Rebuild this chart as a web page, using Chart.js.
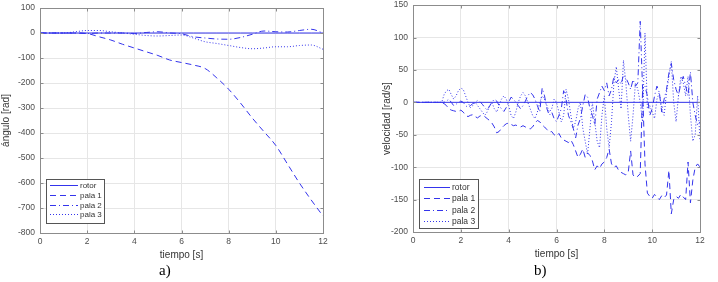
<!DOCTYPE html>
<html>
<head>
<meta charset="utf-8">
<script src="https://cdn.jsdelivr.net/npm/chart.js@4/dist/chart.umd.min.js"></script>
<style>
  body { margin: 0; background: #fff; width: 718px; height: 282px; position: relative; overflow: hidden; }
  canvas { position: absolute; top: 0; }
  #chartA { left: 0; }
  #chartB { left: 358px; }
  .cap { position: absolute; top: 263px; font-family: "Liberation Serif", "Times New Roman", serif; font-size: 15px; line-height: 15px; color: #000; }
</style>
</head>
<body>
<canvas id="chartA" width="360" height="282"></canvas>
<canvas id="chartB" width="360" height="282"></canvas>
<div class="cap" style="left:159px">a)</div>
<div class="cap" style="left:534px">b)</div>
<script>
// a) angulo [rad]
var tiempoA = [0, 0.5, 1, 1.5, 2, 2.5, 3, 3.5, 4, 4.5, 5, 5.5, 6, 6.5, 7, 7.5, 8, 8.5, 9, 9.5, 10, 10.5, 11, 11.5, 12];
var rotorA = [0, 0, 0, 0, 0, 0, 0, 0, 0, 0, 0, 0, 0, 0, 0, 0, 0, 0, 0, 0, 0, 0, 0, 0, 0];
var pala1A = [0, 0, 0, 0, -2, -15, -28, -45, -60, -75, -90, -108, -118, -128, -142, -180, -225, -280, -340, -395, -450, -525, -600, -668, -732];
var pala2A = [0, 0, 0, 0, -2, 0, 0, 0, -2, 2, 5, 0, -3, -15, -20, -24, -25, -18, -5, 8, 5, 4, 10, 15, 0];
var pala3A = [0, 0, 0, 5, 10, 10, 5, 0, -5, -10, -12, -10, -8, -20, -35, -42, -50, -58, -63, -60, -55, -55, -50, -48, -65];

// b) velocidad [rad/s]
var tiempoB = [
  0, 0.1, 0.2, 0.3, 0.4, 0.5, 0.6, 0.7, 0.8, 0.9,
  1, 1.1, 1.2, 1.3, 1.4, 1.5, 1.6, 1.7, 1.8, 1.9,
  2, 2.1, 2.2, 2.3, 2.4, 2.5, 2.6, 2.7, 2.8, 2.9,
  3, 3.1, 3.2, 3.3, 3.4, 3.5, 3.6, 3.7, 3.8, 3.9,
  4, 4.1, 4.2, 4.3, 4.4, 4.5, 4.6, 4.7, 4.8, 4.9,
  5, 5.1, 5.2, 5.3, 5.4, 5.5, 5.6, 5.7, 5.8, 5.9,
  6, 6.1, 6.2, 6.3, 6.4, 6.5, 6.6, 6.7, 6.8, 6.9,
  7, 7.1, 7.2, 7.3, 7.4, 7.5, 7.6, 7.7, 7.8, 7.9,
  8, 8.1, 8.2, 8.3, 8.4, 8.5, 8.6, 8.7, 8.8, 8.9,
  9, 9.1, 9.2, 9.3, 9.4, 9.5, 9.6, 9.7, 9.8, 9.9,
  10, 10.1, 10.2, 10.3, 10.4, 10.5, 10.6, 10.7, 10.8, 10.9,
  11, 11.1, 11.2, 11.3, 11.4, 11.5, 11.6, 11.7, 11.8, 11.9,
  12];
var tiempoRotorB = [0, 12];
var rotorB = [0, 0];
var pala1B = [
  0, 0, 0, 0, 0, 0, 0, 0, 0, 0,
  0, 0, 0, -2, -5, -10, -12, -13, -14, -14,
  -12, -15, -20, -22, -20, -19, -22, -24, -21, -20,
  -22, -25, -28, -32, -38, -47, -45, -40, -36, -33,
  -32, -34, -36, -35, -37, -38, -36, -38, -40, -41,
  -38, -32, -28, -30, -35, -38, -42, -46, -45, -50,
  -52, -48, -55, -58, -60, -62, -58, -65, -75, -85,
  -80, -72, -85, -78, -82, -90, -104, -98, -102, -95,
  -92, -85, -72, -95, -100, -98, -105, -108, -110, -112,
  -108, -75, -112, -116, -114, -110, 20, -95, -140, -145,
  -148, -142, -146, -150, -144, -147, -143, -105, -172, -150,
  -145, -148, -142, -146, -150, -92, -155, -120, -100, -95,
  -100];
var pala2B = [
  0, 0, 0, 0, 0, 0, 0, 0, 0, 0,
  0, 0, 0, 0, 2, 5, 0, -5, -3, 0,
  2, 0, -5, -8, -5, -2, 0, 3, 1, -3,
  -8, -12, -6, 0, 5, 2, -5, -10, -14, -8,
  0, 8, 5, 0, -5, -10, -5, 2, 10, 15,
  12, 5, -5, -15, 22, 10, -10, -20, -15, -25,
  -30, -20, -10, 18, 5, -20, -30, -40, -55, -35,
  -25, -5, 12, 8, -10, -20, -35, 5, 15, 25,
  18, 30, 10, 20, 40, 30, 35, 28, 42, 38,
  30, 20, 35, 25, 30, 125, 20, 25, 10, -20,
  -10, 10, 25, 15, -15, 5, 20, 45, 60, 35,
  20, 10, 30, 40, 25, 10, 47, 0, -20, -35,
  -30];
var pala3B = [
  0, 0, 0, 0, 0, 0, 0, 0, 0, 0,
  0, 0, 0, 12, 18, 20, 12, 5, 10, 18,
  22, 20, 10, 0, -8, -5, 0, -5, -10, -15,
  -20, -15, -5, 0, -10, -15, -5, 5, 10, 5,
  -5, -20, -25, -15, 0, 10, 15, 10, 0, -10,
  -20, -25, -15, 0, 10, 5, -5, -15, -10, 5,
  0, -15, -30, -20, 20, 5, -20, -40, -30, -10,
  0, -40, -60, -80, -40, 0, -30, -60, -70, -20,
  10, -40, -70, -30, 30, 55, 20, -10, 65, 30,
  -20, -60, -20, 30, 20, 0, -30, 107, -10, -5,
  -15, -25, 5, 15, -10, -20, 15, 40, 63, 0,
  -30, 10, 40, 30, 10, 40, -20, -60, -50, 10,
  -60];

var azul = '#3434ec';
var gris = '#8c8c8c';
var tickFont = { family: 'Liberation Sans, Arial, sans-serif', size: 8.5 };
var titleFont = { family: 'Liberation Sans, Arial, sans-serif', size: 10 };

function puntos(xs, ys) {
  return ys.map(function(y, i) { return { x: xs[i], y: y }; });
}

function serie(label, xs, ys, dash) {
  return { label: label, data: puntos(xs, ys), borderColor: azul, borderWidth: 1, borderDash: dash, pointRadius: 0, fill: false };
}

// matlab like box, inner ticks and legend in the lower left corner
var mlBox = {
  id: 'mlBox',
  afterDatasetsDraw: function(chart, args, opts) {
    var ctx = chart.ctx, a = chart.chartArea, sx = chart.scales.x, sy = chart.scales.y;
    ctx.save();
    ctx.setLineDash([]);
    ctx.lineWidth = 1;
    ctx.strokeStyle = gris;
    var l = Math.round(a.left) + 0.5, t = Math.round(a.top) + 0.5, r = Math.round(a.right) + 0.5, b = Math.round(a.bottom) + 0.5;
    ctx.strokeRect(l, t, r - l, b - t);
    ctx.beginPath();
    sx.ticks.forEach(function(tk) {
      var px = Math.round(sx.getPixelForValue(tk.value)) + 0.5;
      ctx.moveTo(px, b); ctx.lineTo(px, b - 3);
      ctx.moveTo(px, t); ctx.lineTo(px, t + 3);
    });
    sy.ticks.forEach(function(tk) {
      var py = Math.round(sy.getPixelForValue(tk.value)) + 0.5;
      ctx.moveTo(l, py); ctx.lineTo(l + 3, py);
      ctx.moveTo(r, py); ctx.lineTo(r - 3, py);
    });
    ctx.stroke();

    var x0 = Math.round(a.left) + opts.dx, y1 = Math.round(a.bottom) - opts.dy, y0 = y1 - opts.h;
    ctx.fillStyle = '#fff';
    ctx.fillRect(x0, y0, opts.w, opts.h);
    ctx.strokeStyle = '#555';
    ctx.strokeRect(x0 + 0.5, y0 + 0.5, opts.w, opts.h);
    ctx.font = opts.font;
    ctx.textBaseline = 'middle';
    chart.data.datasets.forEach(function(ds, i) {
      var yy = Math.round(y0 + opts.top + i * opts.rowH) + 0.5;
      ctx.strokeStyle = ds.borderColor;
      ctx.setLineDash(ds.borderDash || []);
      ctx.beginPath();
      ctx.moveTo(x0 + opts.pad, yy);
      ctx.lineTo(x0 + opts.pad + opts.len, yy);
      ctx.stroke();
      ctx.setLineDash([]);
      ctx.fillStyle = '#333';
      ctx.fillText(ds.label, x0 + opts.pad + opts.len + 2, yy);
    });
    ctx.restore();
  }
};

function opciones(cfg) {
  return {
    responsive: false,
    animation: false,
    layout: { padding: cfg.padding },
    elements: { line: { tension: cfg.tension, cubicInterpolationMode: cfg.tension ? 'monotone' : 'default' } },
    plugins: { legend: { display: false }, tooltip: { enabled: false }, mlBox: cfg.legend },
    scales: {
      x: {
        type: 'linear', min: 0, max: 12,
        ticks: { stepSize: 2, padding: 0, color: '#4d4d4d', font: tickFont },
        grid: { color: '#e6e6e6', drawTicks: true, tickLength: 4, tickColor: 'rgba(0,0,0,0)' },
        border: { color: gris },
        title: { display: true, text: 'tiempo [s]', color: '#333', font: titleFont, padding: { top: 0, bottom: 2 } },
        afterFit: function(s) { s.height = 30; }
      },
      y: {
        min: cfg.ymin, max: cfg.ymax,
        ticks: { stepSize: cfg.ystep, padding: 0, color: '#4d4d4d', font: tickFont },
        grid: { color: '#e6e6e6', drawTicks: true, tickLength: 5, tickColor: 'rgba(0,0,0,0)' },
        border: { color: gris },
        title: { display: true, text: cfg.ytitle, color: '#333', font: titleFont, padding: { top: cfg.ytitlePad, bottom: 0 } },
        afterFit: function(s) { s.width = cfg.ywidth; }
      }
    }
  };
}

new Chart(document.getElementById('chartA'), {
  type: 'line',
  data: {
    datasets: [
      serie('rotor', tiempoA, rotorA, []),
      serie('pala 1', tiempoA, pala1A, [6, 4]),
      serie('pala 2', tiempoA, pala2A, [6, 3, 1, 3]),
      serie('pala 3', tiempoA, pala3A, [1, 2])
    ]
  },
  options: opciones({
    padding: { left: 0, top: 8, right: 37, bottom: 19 },
    tension: 0.4,
    ymin: -800, ymax: 100, ystep: 100,
    ytitle: 'ángulo [rad]', ytitlePad: 0, ywidth: 40,
    legend: { dx: 6, dy: 10, w: 58, h: 44, top: 6, rowH: 9.8, pad: 4, len: 28, font: '8px "Liberation Sans", Arial, sans-serif' }
  }),
  plugins: [mlBox]
});

new Chart(document.getElementById('chartB'), {
  type: 'line',
  data: {
    datasets: [
      serie('rotor', tiempoRotorB, rotorB, []),
      serie('pala 1', tiempoB, pala1B, [6, 4]),
      serie('pala 2', tiempoB, pala2B, [6, 3, 1, 3]),
      serie('pala 3', tiempoB, pala3B, [1, 2])
    ]
  },
  options: opciones({
    padding: { left: 0, top: 4, right: 18, bottom: 20 },
    tension: 0,
    ymin: -200, ymax: 150, ystep: 50,
    ytitle: 'velocidad [rad/s]', ytitlePad: 23, ywidth: 55,
    legend: { dx: 6, dy: 4, w: 59, h: 49, top: 7.7, rowH: 11.5, pad: 5, len: 26, font: '8.5px "Liberation Sans", Arial, sans-serif' }
  }),
  plugins: [mlBox]
});
</script>
</body>
</html>
